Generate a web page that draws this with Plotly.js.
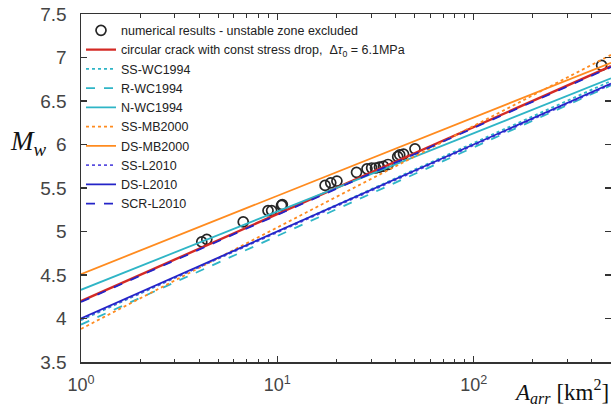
<!DOCTYPE html>
<html>
<head>
<meta charset="utf-8">
<script src="https://cdn.plot.ly/plotly-3.0.1.min.js"></script>
<style>html,body{margin:0;padding:0;background:#fff;}#chart{width:611px;height:409px;}</style>
</head>
<body>
<div id="chart"></div>
<script>
// numerical results (A_arr in km^2, Mw)
const ptArea = [4.12, 4.37, 6.7, 8.96, 9.35, 10.5, 10.6, 17.5, 18.7, 20.1, 25.3, 28.6, 30.2, 31.6, 33.1, 34.7, 36.6, 41.0, 42.0, 43.9, 50.2, 448];
const ptMw   = [4.88, 4.91, 5.11, 5.24, 5.24, 5.30, 5.31, 5.53, 5.56, 5.58, 5.68, 5.72, 5.73, 5.73, 5.74, 5.75, 5.77, 5.86, 5.88, 5.89, 5.95, 6.91];

// scaling relations: endpoints at A = 1 and A = 500 km^2
const lineArea = [1, 500];
const redMw   = [4.20, 6.90];
const ssWC    = [3.98, 6.73];
const rWC     = [3.93, 6.68];
const nWC     = [4.33, 6.76];
const ssMB    = [3.88, 7.03];
const dsMB    = [4.51, 6.94];
const ssL     = [3.99, 6.69];
const dsL     = [4.00, 6.70];
const scrL    = [4.19, 6.89];

const xTickVals = [1, 10, 100];
const xTickText = ['10<sup>0</sup>', '10<sup>1</sup>', '10<sup>2</sup>'];
const xMinor = [2,3,4,5,6,7,8,9,20,30,40,50,60,70,80,90,200,300,400];

const RED = '#d42a24', CYAN = '#2fb5c6', ORANGE = '#ff8b1f', BLUE = '#2424c8', PURPLE = '#5a4fe0';

function ln(y, name, color, dash, w) {
  return {x: lineArea, y: y, name: name, type: 'scatter', mode: 'lines',
          line: {color: color, dash: dash, width: w || 1.8}};
}

const traces = [
  {x: ptArea, y: ptMw, name: 'numerical results - unstable zone excluded', type: 'scatter', mode: 'markers',
   marker: {symbol: 'circle-open', size: 10, color: '#262626', line: {width: 1.7, color: '#262626'}}},
  ln(redMw, 'circular crack with const stress drop,  Δ<i>τ</i><sub>0</sub> = 6.1MPa', RED, 'solid', 2.4),
  ln(ssWC, 'SS-WC1994', CYAN, 'dot'),
  ln(rWC, 'R-WC1994', CYAN, 'dash'),
  ln(nWC, 'N-WC1994', CYAN, 'solid'),
  ln(ssMB, 'SS-MB2000', ORANGE, 'dot'),
  ln(dsMB, 'DS-MB2000', ORANGE, 'solid'),
  ln(ssL, 'SS-L2010', PURPLE, 'dot'),
  ln(dsL, 'DS-L2010', BLUE, 'solid'),
  ln(scrL, 'SCR-L2010', BLUE, 'dash')
];

const axisCol = '#333333';
const layout = {
  width: 611, height: 409,
  margin: {l: 81, r: 0, t: 14, b: 47},
  paper_bgcolor: '#ffffff', plot_bgcolor: '#ffffff',
  font: {family: 'Liberation Sans, Arial, sans-serif', color: '#333333', size: 16},
  showlegend: true,
  legend: {x: 0.0, y: 0.995, xanchor: 'left', yanchor: 'top', bgcolor: 'rgba(0,0,0,0)',
           borderwidth: 0, font: {size: 12.5, color: '#222'}, itemwidth: 30, tracegroupgap: 0},
  xaxis: {type: 'log', range: [0, Math.log10(500)], tickvals: xTickVals, ticktext: xTickText,
          ticks: 'inside', ticklen: 6, tickwidth: 1.2, tickcolor: axisCol, ticklabelstandoff: 6,
          showline: true, linecolor: axisCol, linewidth: 1.5, mirror: 'ticks',
          showgrid: false, zeroline: false, tickfont: {size: 18, color: '#444'},
          minor: {tickvals: xMinor, ticks: 'inside', ticklen: 3.5, tickwidth: 1, tickcolor: axisCol, showgrid: false}},
  yaxis: {range: [3.5, 7.5], dtick: 0.5, tick0: 3.5,
          ticks: 'inside', ticklen: 6, tickwidth: 1.2, tickcolor: axisCol, ticklabelstandoff: 9,
          showline: true, linecolor: axisCol, linewidth: 1.5, mirror: 'ticks',
          showgrid: false, zeroline: false, tickfont: {size: 19, color: '#444'}},
  annotations: [
    {text: '<i>M</i><sub><i>w</i></sub>', xref: 'paper', yref: 'paper', x: -0.138, y: 0.629,
     xanchor: 'left', yanchor: 'middle', showarrow: false,
     font: {family: 'Liberation Serif, Times New Roman, serif', size: 27, color: '#111'}},
    {text: '<i>A</i><sub><i>arr</i></sub> [km<sup>2</sup>]', xref: 'paper', yref: 'paper', x: 1.0, y: -0.085,
     xanchor: 'right', yanchor: 'middle', showarrow: false,
     font: {family: 'Liberation Serif, Times New Roman, serif', size: 23, color: '#111'}}
  ]
};

Plotly.newPlot('chart', traces, layout, {displayModeBar: false, staticPlot: true});
</script>
</body>
</html>
